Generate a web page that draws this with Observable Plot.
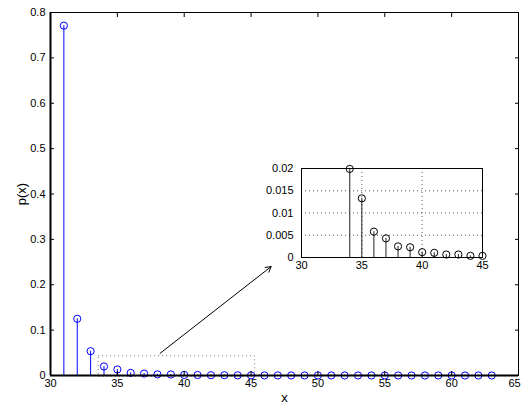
<!DOCTYPE html>
<html><head><meta charset="utf-8">
<script src="https://cdn.jsdelivr.net/npm/d3@7"></script>
<script src="https://cdn.jsdelivr.net/npm/@observablehq/plot@0.6"></script>
<style>
body{margin:0;background:#fff}
#wrap{position:relative;width:523px;height:405px;overflow:hidden}
#wrap svg{position:absolute;left:0;top:0}
</style>
</head><body><div id="wrap"></div>
<script>
const xValues = [31,32,33,34,35,36,37,38,39,40,41,42,43,44,45,46,47,48,49,50,51,52,53,54,55,56,57,58,59,60,61,62,63];
const pValues = [0.771,0.125,0.0536,0.0199,0.0133,0.0058,0.0043,0.0025,0.0023,0.0012,0.00105,0.00067,0.00067,0.00037,0.00037,
  0.0002,0.0002,0.00015,0.00012,0.0001,0.0001,0.00008,0.00007,0.00006,0.00005,0.00004,0.00004,0.00003,0.00003,0.00002,0.00002,0.00002,0.00001];
const xTicks = [30,35,40,45,50,55,60];
const xTicksEdge = [65];
const yTicks = [0,0.1,0.2,0.3,0.4,0.5,0.6,0.7,0.8];
const insetXTicks = [30,35,40,45];
const insetYTicks = [0,0.005,0.01,0.015,0.02];
const insetGridX = [35,40];
const insetGridY = [0.005,0.01,0.015];
const zoomBox = [{x1:33.6, x2:45.3, y1:-0.003, y2:0.0425}];
const arrowSeg = [{x1:38.2, y1:0.049, x2:46.5, y2:0.240}];

const data = xValues.map((x,i)=>({x, p:pValues[i]}));
const insetData = data.filter(d=>d.x>=34 && d.x<=45);
const fmt = d => String(d);

const font = {fontFamily:"'Liberation Sans', Arial, Helvetica, sans-serif", fontSize:"11px", background:"transparent", overflow:"visible", color:"black"};

const main = Plot.plot({
  width:523, height:405, marginLeft:50, marginRight:5, marginTop:12, marginBottom:30,
  style: font,
  x:{domain:[30,65]}, y:{domain:[0,0.8]},
  marks:[
    Plot.frame({stroke:"black", strokeWidth:1}),
    Plot.rect(zoomBox, {x1:"x1", x2:"x2", y1:"y1", y2:"y2", stroke:"#777", strokeDasharray:"1,3", fill:"none"}),
    Plot.arrow(arrowSeg, {x1:"x1", y1:"y1", x2:"x2", y2:"y2", stroke:"black", strokeWidth:1, headLength:9, bend:false}),
    Plot.ruleX(data, {x:"x", y1:0, y2:"p", stroke:"#0000ff", strokeWidth:1}),
    Plot.dot(data, {x:"x", y:"p", r:3.6, stroke:"#0000ff", strokeWidth:1, fill:"none"}),
    Plot.ruleY([0], {stroke:"black", strokeWidth:2}),
    Plot.ruleX([30], {stroke:"black", strokeWidth:2}),
    Plot.axisY(yTicks, {anchor:"left", tickSize:0, tickPadding:5, tickFormat:fmt, label:null, fontSize:11}),
    Plot.axisY({anchor:"left", ticks:[], label:"p(x)", labelAnchor:"center", labelOffset:34, labelArrow:"none", fontSize:13}),
    Plot.axisY(yTicks, {anchor:"left", tickSize:-4, tickFormat:()=>"", label:null}),
    Plot.axisY(yTicks, {anchor:"right", tickSize:-4, tickFormat:()=>"", label:null}),
    Plot.axisX(xTicks, {anchor:"bottom", tickSize:0, tickPadding:4, tickFormat:fmt, label:null, fontSize:11}),
    Plot.axisX({anchor:"bottom", ticks:[], label:"x", labelAnchor:"center", labelOffset:26, labelArrow:"none", fontSize:13}),
    Plot.axisX(xTicksEdge, {anchor:"bottom", tickSize:0, tickPadding:4, tickFormat:fmt, label:null, dx:-4, fontSize:11}),
    Plot.axisX([...xTicks, ...xTicksEdge], {anchor:"bottom", tickSize:-4, tickFormat:()=>"", label:null}),
    Plot.axisX([...xTicks, ...xTicksEdge], {anchor:"top", tickSize:-4, tickFormat:()=>"", label:null})
  ]
});

const inset = Plot.plot({
  width:523, height:405, marginLeft:301, marginRight:41, marginTop:168, marginBottom:148,
  style: font,
  x:{domain:[30,45]}, y:{domain:[0,0.02]},
  marks:[
    Plot.frame({fill:"white", stroke:"none"}),
    Plot.ruleX(insetGridX, {stroke:"#555", strokeDasharray:"1,3"}),
    Plot.ruleY(insetGridY, {stroke:"#555", strokeDasharray:"1,3"}),
    Plot.frame({stroke:"black", strokeWidth:1}),
    Plot.ruleX(insetData, {x:"x", y1:0, y2:"p", stroke:"#222", strokeWidth:1}),
    Plot.dot(insetData, {x:"x", y:"p", r:3.6, stroke:"black", strokeWidth:1, fill:"none"}),
    Plot.axisY(insetYTicks, {anchor:"left", tickSize:0, tickPadding:8, tickFormat:fmt, label:null, fontSize:11}),
    Plot.axisX(insetXTicks, {anchor:"bottom", tickSize:0, tickPadding:4, tickFormat:fmt, label:null, fontSize:11})
  ]
});

const wrap = document.getElementById("wrap");
wrap.appendChild(main);
wrap.appendChild(inset);
</script>
</body></html>
